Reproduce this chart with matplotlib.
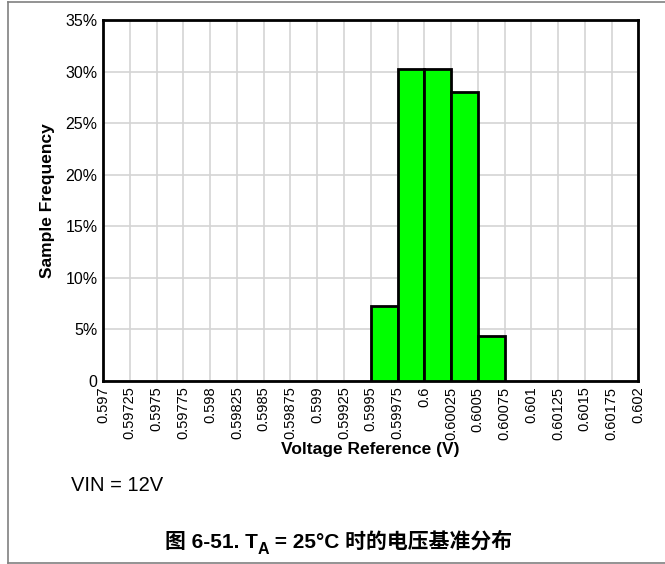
import matplotlib.pyplot as plt
from matplotlib.lines import Line2D
from matplotlib.ticker import FuncFormatter

plt.rcParams['font.family'] = ['Liberation Sans', 'Noto Sans CJK SC', 'DejaVu Sans']

# histogram bins (left edges, V) and sample frequency (%)
bin_left = [0.5995, 0.59975, 0.6, 0.60025, 0.6005]
freq = [7.25, 30.3, 30.3, 28.05, 4.35]
bin_width = 0.00025

x_ticks = [0.597, 0.59725, 0.5975, 0.59775, 0.598, 0.59825, 0.5985, 0.59875,
           0.599, 0.59925, 0.5995, 0.59975, 0.6, 0.60025, 0.6005, 0.60075,
           0.601, 0.60125, 0.6015, 0.60175, 0.602]
x_labels = ["0.597", "0.59725", "0.5975", "0.59775", "0.598", "0.59825", "0.5985",
            "0.59875", "0.599", "0.59925", "0.5995", "0.59975", "0.6", "0.60025",
            "0.6005", "0.60075", "0.601", "0.60125", "0.6015", "0.60175", "0.602"]
y_ticks = [0, 5, 10, 15, 20, 25, 30, 35]

fig = plt.figure(figsize=(6.65, 5.64), dpi=100)
ax = fig.add_axes([0.155, 0.3245, 0.805, 0.6395])

ax.bar(bin_left, freq, width=bin_width, align='edge', color='#00ff00',
       edgecolor='black', linewidth=2, zorder=3)

ax.set_xlim(0.597, 0.602)
ax.set_ylim(0, 35)
ax.set_xticks(x_ticks)
ax.set_xticklabels(x_labels, rotation=90, fontsize=10.5)
ax.set_yticks(y_ticks)
ax.yaxis.set_major_formatter(FuncFormatter(lambda v, p: "0" if v == 0 else "%d%%" % v))
ax.tick_params(axis='y', labelsize=11.5)
ax.tick_params(length=0, pad=4)
ax.grid(True, color='#d4d4d4', linewidth=1.2, zorder=0)
ax.set_axisbelow(True)
for s in ax.spines.values():
    s.set_linewidth(2)

ax.set_xlabel('Voltage Reference (V)', fontsize=12.5, fontweight='bold')
ax.set_ylabel('Sample Frequency', fontsize=12.5, fontweight='bold')
ax.xaxis.set_label_coords(0.5, -0.17)
ax.yaxis.set_label_coords(-0.09, 0.5)

fig.text(0.107, 0.13, 'VIN = 12V', fontsize=14.5)

# caption with subscript, built from pieces so CJK glyphs fall back properly
base_y = 0.028
t1 = fig.text(0.248, base_y, '图 6-51. T', fontsize=15, fontweight='bold')
t2 = fig.text(0, 0, 'A', fontsize=11.5, fontweight='bold')
t3 = fig.text(0, 0, ' = 25°C 时的电压基准分布', fontsize=15, fontweight='bold')
fig.canvas.draw()
r = fig.canvas.get_renderer()
inv = fig.transFigure.inverted()
x1 = inv.transform((t1.get_window_extent(r).x1, 0))[0]
t2.set_position((x1, base_y - 0.011))
fig.canvas.draw()
x2 = inv.transform((t2.get_window_extent(r).x1, 0))[0]
t3.set_position((x2, base_y))

# outer frame (top, left, bottom)
for xs, ys in [([0.012, 1.0], [0.996, 0.996]), ([0.012, 0.012], [0.002, 0.996]),
               ([0.012, 1.0], [0.002, 0.002])]:
    fig.add_artist(Line2D(xs, ys, color='#808080', linewidth=1.2, transform=fig.transFigure))

fig.savefig('out.png', dpi=100)
